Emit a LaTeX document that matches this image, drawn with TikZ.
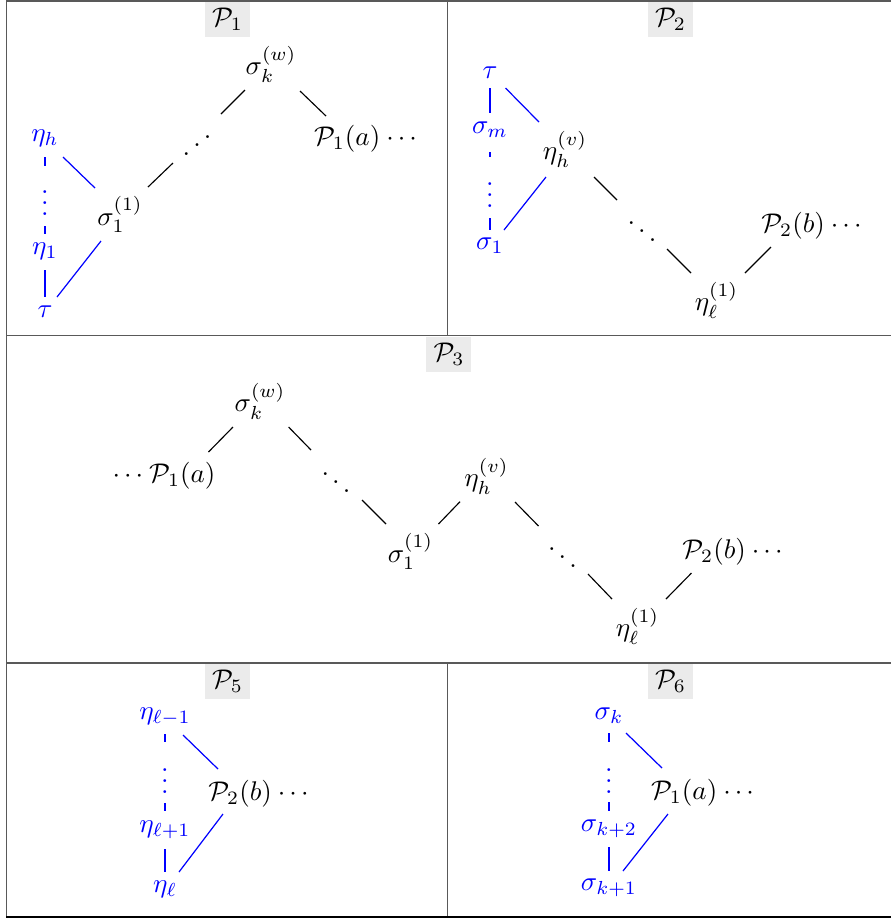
\documentclass[tikz,border=0pt]{standalone}
\usepackage{graphicx}
\newcommand{\wdots}{{\cdot}\kern1.5pt{\cdot}\kern1.5pt{\cdot}}
\begin{document}
\begin{tikzpicture}[x=0.37pt,y=-0.37pt,
  lbl/.style={fill=black!8, inner sep=0pt, minimum width=16.65pt, minimum height=12.95pt},
  mt/.style={inner sep=0pt},
  bmt/.style={inner sep=0pt, text=blue},
  dotn/.style={inner sep=0pt, anchor=base},
  conn/.style={line width=0.42pt, black},
  bconn/.style={line width=0.45pt, blue},
  vconn/.style={line width=0.42pt, blue},
  frame/.style={draw=black!65, line width=0.45pt}]
\useasboundingbox (0,0) rectangle (891,919);
% frame
\draw[frame] (6.5,917) -- (6.5,1) -- (900,1);
\draw[frame] (6.5,335.5) -- (900,335.5);
\draw[frame] (6.5,663) -- (900,663);
\draw[frame] (447.3,1) -- (447.3,335.5);
\draw[frame] (447.3,663) -- (447.3,917);
\draw[black, line width=0.6pt] (6.5,917) -- (900,917);
% labels
\node[lbl] (t1) at (227.5,19.5) {$\mathcal{P}_1$};
\node[lbl] (t2) at (670.5,19.5) {$\mathcal{P}_2$};
\node[lbl] (t3) at (449,354.5) {$\mathcal{P}_3$};
\node[lbl] (t5) at (227.5,681) {$\mathcal{P}_5$};
\node[lbl] (t6) at (670.5,681) {$\mathcal{P}_6$};
% ---------------- P1
\node[mt] (sk1) at (271,64.5) {$\sigma_k^{(w)}$};
\node[mt] (pa1) at (365.5,139) {$\mathcal{P}_1(a)\:\wdots$};
\node[dotn] (ad1) at (197,157.7) {\reflectbox{$\ddots$}};
\node[mt] (s11) at (120,214.5) {$\sigma_1^{(1)}$};
\node[bmt] (eh1) at (45,138) {$\eta_h$};
\node[dotn, text=blue] (vd1) at (45,215) {$\vdots$};
\node[bmt] (e11) at (45,251) {$\eta_1$};
\node[bmt] (tau1) at (45,312) {$\tau$};
\draw[conn] ([shift={(-26,25.5)}]sk1.center) -- ([shift={(24,-43.7)}]ad1.base);
\draw[conn] ([shift={(29,26.5)}]sk1.center) -- ([shift={(-39.5,-23)}]pa1.center);
\draw[conn] ([shift={(-24,5.3)}]ad1.base) -- ([shift={(28,-27.5)}]s11.center);
\draw[bconn] ([shift={(18,19)}]eh1.center) -- ([shift={(-25,-26.5)}]s11.center);
\draw[bconn] ([shift={(12,-15)}]tau1.center) -- ([shift={(-19,26.5)}]s11.center);
\draw[vconn] ([shift={(0,19)}]eh1.center) -- ([shift={(0,-49)}]vd1.base);
\draw[vconn] ([shift={(0,11)}]vd1.base) -- ([shift={(0,-17)}]e11.center);
\draw[vconn] ([shift={(0,19)}]e11.center) -- ([shift={(0,-15)}]tau1.center);
% ---------------- P2
\node[bmt] (tau2) at (490,73) {$\tau$};
\node[bmt] (sm2) at (490,130) {$\sigma_m$};
\node[dotn, text=blue] (vd2) at (490,207) {$\vdots$};
\node[bmt] (s12) at (490,246) {$\sigma_1$};
\node[mt] (eh2) at (565,149.5) {$\eta_h^{(v)}$};
\node[dotn] (dd2) at (642,243.7) {$\ddots$};
\node[mt] (el2) at (716.5,300.5) {$\eta_\ell^{(1)}$};
\node[mt] (pb2) at (811.5,225.5) {$\mathcal{P}_2(b)\:\wdots$};
\draw[bconn] ([shift={(15.5,15)}]tau2.center) -- ([shift={(-26,-27.5)}]eh2.center);
\draw[vconn] ([shift={(0,15)}]tau2.center) -- ([shift={(0,-17)}]sm2.center);
\draw[vconn] ([shift={(0,22)}]sm2.center) -- ([shift={(0,-50)}]vd2.base);
\draw[vconn] ([shift={(0,11)}]vd2.base) -- ([shift={(0,-16)}]s12.center);
\draw[bconn] ([shift={(14,-16)}]s12.center) -- ([shift={(-19,27.5)}]eh2.center);
\draw[conn] ([shift={(29,27.5)}]eh2.center) -- ([shift={(-25,-43.7)}]dd2.base);
\draw[conn] ([shift={(25,5.3)}]dd2.base) -- ([shift={(-25.5,-27.5)}]el2.center);
\draw[conn] ([shift={(28.5,-27.5)}]el2.center) -- ([shift={(-40.5,21.5)}]pb2.center);
% ---------------- P3
\node[mt] (sk3) at (260,401.5) {$\sigma_k^{(w)}$};
\node[mt] (pa3) at (164,475.5) {$\wdots\:\mathcal{P}_1(a)$};
\node[dotn] (dd3a) at (336,494.7) {$\ddots$};
\node[mt] (s13) at (410.5,551.5) {$\sigma_1^{(1)}$};
\node[mt] (eh3) at (486.5,476.5) {$\eta_h^{(v)}$};
\node[dotn] (dd3b) at (562.5,569.7) {$\ddots$};
\node[mt] (pb3) at (732.5,551.5) {$\mathcal{P}_2(b)\:\wdots$};
\node[mt] (el3) at (637.5,626.5) {$\eta_\ell^{(1)}$};
\draw[conn] ([shift={(-27,25.5)}]sk3.center) -- ([shift={(44.5,-23.5)}]pa3.center);
\draw[conn] ([shift={(28.6,25.5)}]sk3.center) -- ([shift={(-25,-44.7)}]dd3a.base);
\draw[conn] ([shift={(26,5.3)}]dd3a.base) -- ([shift={(-24.5,-27.5)}]s13.center);
\draw[conn] ([shift={(28,-27.5)}]s13.center) -- ([shift={(-26.5,25.2)}]eh3.center);
\draw[conn] ([shift={(28.5,25.5)}]eh3.center) -- ([shift={(-24,-43.7)}]dd3b.base);
\draw[conn] ([shift={(25.5,4.3)}]dd3b.base) -- ([shift={(-25.5,-27.5)}]el3.center);
\draw[conn] ([shift={(28.5,-27.5)}]el3.center) -- ([shift={(-41,21.5)}]pb3.center);
% ---------------- P5
\node[bmt] (em5) at (165,716.5) {$\eta_{\ell-1}$};
\node[dotn, text=blue] (vd5) at (165,793) {$\vdots$};
\node[bmt] (ep5) at (165,830) {$\eta_{\ell+1}$};
\node[bmt] (el5) at (165,889) {$\eta_\ell$};
\node[mt] (pb5) at (258.5,793.5) {$\mathcal{P}_2(b)\:\wdots$};
\draw[bconn] ([shift={(18,18.5)}]em5.center) -- ([shift={(-40.5,-24.5)}]pb5.center);
\draw[bconn] ([shift={(14,-17)}]el5.center) -- ([shift={(-35.5,20.5)}]pb5.center);
\draw[vconn] ([shift={(0,17.5)}]em5.center) -- ([shift={(0,-51)}]vd5.base);
\draw[vconn] ([shift={(0,10)}]vd5.base) -- ([shift={(0,-19)}]ep5.center);
\draw[vconn] ([shift={(0,19)}]ep5.center) -- ([shift={(0,-17)}]el5.center);
% ---------------- P6
\node[bmt] (sk6) at (609,715.5) {$\sigma_k$};
\node[dotn, text=blue] (vd6) at (609,793) {$\vdots$};
\node[bmt] (sk26) at (609,829) {$\sigma_{k+2}$};
\node[bmt] (sk16) at (609,888) {$\sigma_{k+1}$};
\node[mt] (pa6) at (702.5,792.5) {$\mathcal{P}_1(a)\:\wdots$};
\draw[bconn] ([shift={(17,17.5)}]sk6.center) -- ([shift={(-40.5,-24.5)}]pa6.center);
\draw[bconn] ([shift={(14,-17)}]sk16.center) -- ([shift={(-34.5,21.5)}]pa6.center);
\draw[vconn] ([shift={(0,17.5)}]sk6.center) -- ([shift={(0,-51)}]vd6.base);
\draw[vconn] ([shift={(0,9)}]vd6.base) -- ([shift={(0,-18)}]sk26.center);
\draw[vconn] ([shift={(0,18)}]sk26.center) -- ([shift={(0,-17)}]sk16.center);
\end{tikzpicture}
\end{document}
